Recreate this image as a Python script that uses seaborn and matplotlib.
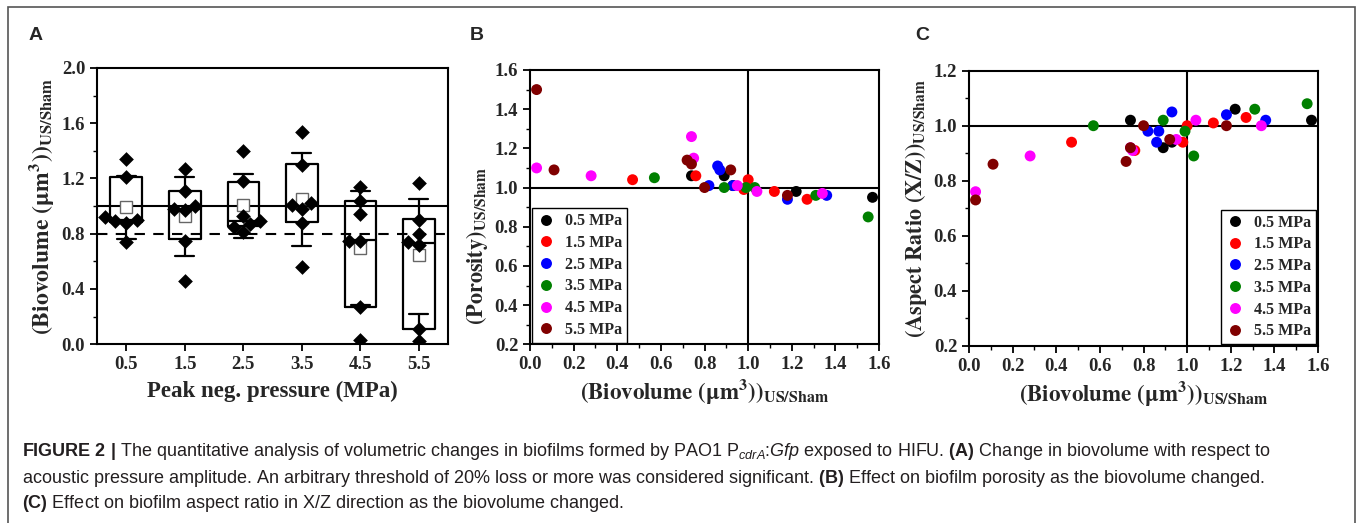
import numpy as np
import pandas as pd
import matplotlib
matplotlib.use("Agg")
import matplotlib.pyplot as plt
import matplotlib.patches as mpatches
from matplotlib.ticker import MultipleLocator, FormatStrFormatter
import seaborn as sns

# Panel A: biovolume (US/Sham) per peak negative pressure
pressures = ["0.5", "1.5", "2.5", "3.5", "4.5", "5.5"]
bio_05 = [1.34, 1.21, 0.89, 0.92, 0.90, 0.88, 0.74]
bio_15 = [1.27, 1.11, 0.97, 1.00, 0.98, 0.75, 0.46]
bio_25 = [1.40, 1.18, 0.93, 0.81, 0.85, 0.87, 0.89]
bio_35 = [1.54, 1.30, 0.98, 1.02, 1.01, 0.88, 0.56]
bio_45 = [1.14, 1.04, 0.94, 0.75, 0.75, 0.27, 0.03]
bio_55 = [1.17, 0.90, 0.80, 0.72, 0.74, 0.11, 0.02]
box_q1 = [0.885, 0.758, 0.856, 0.881, 0.270, 0.109]
box_q3 = [1.211, 1.110, 1.175, 1.303, 1.035, 0.907]
box_med = [0.90, 0.98, 0.89, 1.01, 0.753, 0.736]
whisk_lo = [0.765, 0.639, 0.772, 0.709, 0.287, 0.215]
whisk_hi = [1.22, 1.211, 1.235, 1.385, 1.107, 1.054]
bio_mean = [0.994, 0.926, 1.006, 1.054, 0.697, 0.642]

# Panels B and C: biovolume vs porosity / aspect ratio per group
groups = ["0.5 MPa", "1.5 MPa", "2.5 MPa", "3.5 MPa", "4.5 MPa", "5.5 MPa"]
colors = ["black", "#ff0000", "#0000ff", "#008000", "#ff00ff", "#800000"]
vol_05 = [0.74, 0.89, 0.93, 1.22, 1.57]
por_05 = [1.06, 1.06, 1.01, 0.98, 0.95]
asp_05 = [1.02, 0.92, 0.94, 1.06, 1.02]
vol_15 = [0.47, 0.76, 0.98, 1.00, 1.12, 1.27]
por_15 = [1.04, 1.06, 0.99, 1.04, 0.98, 0.94]
asp_15 = [0.94, 0.91, 0.94, 1.00, 1.01, 1.03]
vol_25 = [0.82, 0.86, 0.87, 0.93, 1.18, 1.36]
por_25 = [1.01, 1.11, 1.09, 1.01, 0.94, 0.96]
asp_25 = [0.98, 0.94, 0.98, 1.05, 1.04, 1.02]
vol_35 = [0.57, 0.89, 0.99, 1.03, 1.31, 1.55]
por_35 = [1.05, 1.00, 1.00, 1.00, 0.96, 0.85]
asp_35 = [1.00, 1.02, 0.98, 0.89, 1.06, 1.08]
vol_45 = [0.03, 0.28, 0.74, 0.75, 0.95, 1.04, 1.34]
por_45 = [1.10, 1.06, 1.26, 1.15, 1.01, 0.98, 0.97]
asp_45 = [0.76, 0.89, 0.92, 0.91, 0.95, 1.02, 1.00]
vol_55 = [0.03, 0.11, 0.72, 0.74, 0.80, 0.92, 1.18]
por_55 = [1.50, 1.09, 1.14, 1.12, 1.00, 1.09, 0.96]
asp_55 = [0.73, 0.86, 0.87, 0.92, 1.00, 0.95, 1.00]

# build long tables
bio_df = pd.DataFrame({
    "pressure": np.repeat(pressures, 7),
    "biovolume": bio_05 + bio_15 + bio_25 + bio_35 + bio_45 + bio_55,
})
vols = [vol_05, vol_15, vol_25, vol_35, vol_45, vol_55]
pors = [por_05, por_15, por_25, por_35, por_45, por_55]
asps = [asp_05, asp_15, asp_25, asp_35, asp_45, asp_55]
rows = []
for g, v, p, a in zip(groups, vols, pors, asps):
    for i in range(len(v)):
        rows.append({"group": g, "biovolume": v[i], "porosity": p[i], "aspect": a[i]})
scat_df = pd.DataFrame(rows)

sns.set_style("ticks")
plt.rcParams["font.family"] = ["Liberation Serif", "DejaVu Serif"]
plt.rcParams["font.weight"] = "bold"
plt.rcParams["mathtext.fontset"] = "custom"
plt.rcParams["mathtext.rm"] = "Liberation Sans:weight=normal"
plt.rcParams["mathtext.it"] = "Liberation Sans:italic:weight=normal"
plt.rcParams["mathtext.bf"] = "Liberation Sans:bold"

fig = plt.figure(figsize=(13.57, 5.23), dpi=100)
axA = fig.add_axes([0.0715, 0.342, 0.2587, 0.528])
axB = fig.add_axes([0.3906, 0.3417, 0.2572, 0.5245])
axC = fig.add_axes([0.7141, 0.339, 0.2572, 0.5258])

tick_font = 13.5
label_font = 16


def style_axis(ax):
    for sp in ax.spines.values():
        sp.set_visible(True)
        sp.set_linewidth(1.5)
        sp.set_color("black")
    ax.tick_params(which="major", direction="out", length=5, width=1.3,
                   labelsize=tick_font, color="black")
    ax.tick_params(which="minor", direction="out", length=3, width=1.0, color="black")


# ---- panel A ----
stats = []
for i in range(len(pressures)):
    stats.append(dict(med=box_med[i], q1=box_q1[i], q3=box_q3[i],
                      whislo=whisk_lo[i], whishi=whisk_hi[i],
                      mean=bio_mean[i], fliers=[]))
line_kw = dict(color="black", linewidth=1.6)
axA.bxp(stats, positions=range(len(pressures)), widths=0.54, capwidths=0.32,
        showmeans=True, showfliers=False, boxprops=line_kw, whiskerprops=line_kw,
        capprops=line_kw, medianprops=line_kw,
        meanprops=dict(marker="s", markerfacecolor="white", markeredgecolor="#666666",
                       markersize=8, zorder=3))
axA.axhline(1.0, color="black", linewidth=1.5, zorder=2)
axA.axhline(0.8, color="black", linewidth=1.5, linestyle=(0, (5, 4)), zorder=2)
sns.swarmplot(data=bio_df, x="pressure", y="biovolume", order=pressures, color="black",
              marker="D", size=7.5, ax=axA, zorder=5)
axA.set_xlim(-0.5, 5.5)
axA.set_ylim(0, 2.0)
axA.set_xticks(range(len(pressures)))
axA.set_xticklabels(pressures)
axA.yaxis.set_major_locator(MultipleLocator(0.4))
axA.yaxis.set_minor_locator(MultipleLocator(0.2))
axA.yaxis.set_major_formatter(FormatStrFormatter("%.1f"))
style_axis(axA)
axA.set_xlabel("Peak neg. pressure (MPa)", fontsize=label_font + 0.5, fontweight="bold", labelpad=6)
axA.set_ylabel(r"$\mathbf{(Biovolume\ (μm^3))}_{\mathbf{US/Sham}}$", fontsize=label_font + 1,
               math_fontfamily="stix", labelpad=4)

# ---- panels B and C ----
bio_label = r"$\mathbf{(Biovolume\ (μm^3))}_{\mathbf{US/Sham}}$"
for ax, ycol, ylim, ylabel, loc, label_y in [
    (axB, "porosity", (0.2, 1.6), r"$\mathbf{(Porosity)}_{\mathbf{US/Sham}}$", "lower left", 0.36),
    (axC, "aspect", (0.2, 1.2), r"$\mathbf{(Aspect\ Ratio\ (X/Z))}_{\mathbf{US/Sham}}$", "lower right", 0.5),
]:
    ax.axhline(1.0, color="black", linewidth=1.5, zorder=1)
    ax.axvline(1.0, color="black", linewidth=1.5, zorder=1)
    sns.scatterplot(data=scat_df, x="biovolume", y=ycol, hue="group", hue_order=groups,
                    palette=colors, s=62, linewidth=0, alpha=1, ax=ax, zorder=3)
    ax.set_xlim(0, 1.6)
    ax.set_ylim(*ylim)
    ax.xaxis.set_major_locator(MultipleLocator(0.2))
    ax.xaxis.set_minor_locator(MultipleLocator(0.1))
    ax.yaxis.set_major_locator(MultipleLocator(0.2))
    ax.yaxis.set_minor_locator(MultipleLocator(0.1))
    ax.xaxis.set_major_formatter(FormatStrFormatter("%.1f"))
    ax.yaxis.set_major_formatter(FormatStrFormatter("%.1f"))
    style_axis(ax)
    ax.set_xlabel(bio_label, fontsize=label_font + 0.5, math_fontfamily="stix", labelpad=3)
    ax.set_ylabel(ylabel, fontsize=label_font, math_fontfamily="stix", labelpad=4)
    ax.yaxis.set_label_coords(-0.115, label_y)
    handles, labels = ax.get_legend_handles_labels()
    leg = ax.legend(handles, labels, loc=loc, frameon=True, fancybox=False,
                    edgecolor="black", framealpha=1, borderaxespad=0.1,
                    prop=dict(family="Liberation Serif", weight="bold", size=11.5),
                    handletextpad=0.6, labelspacing=0.36, borderpad=0.3, handlelength=1.2)
    leg.get_frame().set_linewidth(1.0)

# panel letters
for x, letter in [(0.0265, "A"), (0.3515, "B"), (0.6795, "C")]:
    fig.text(x, 0.933, letter, fontsize=14, fontweight="bold", family="Liberation Sans",
             ha="center", va="center")

# caption
cap_kw = dict(fontsize=13, fontweight="normal", family="Liberation Sans", color="#231f20",
              ha="left", va="center")
fig.text(0.0162, 0.1358,
         r"$\mathbf{FIGURE\ 2\ |}$ The quantitative analysis of volumetric changes in biofilms formed by PAO1 "
         r"$\mathrm{P}_{cdrA}$:$Gfp$ exposed to HIFU. $\mathbf{(A)}$ Change in biovolume with respect to",
         **cap_kw)
fig.text(0.0162, 0.0860,
         r"acoustic pressure amplitude. An arbitrary threshold of 20% loss or more was considered significant. "
         r"$\mathbf{(B)}$ Effect on biofilm porosity as the biovolume changed.",
         **cap_kw)
fig.text(0.0162, 0.0382,
         r"$\mathbf{(C)}$ Effect on biofilm aspect ratio in X/Z direction as the biovolume changed.",
         **cap_kw)

# outer frame of the figure
fig.patches.append(mpatches.Rectangle((0.0059, -0.02), 0.9926, 1.0066, transform=fig.transFigure,
                                      fill=False, edgecolor="#555555", linewidth=1.2))

fig.savefig("out.png", dpi=100)
